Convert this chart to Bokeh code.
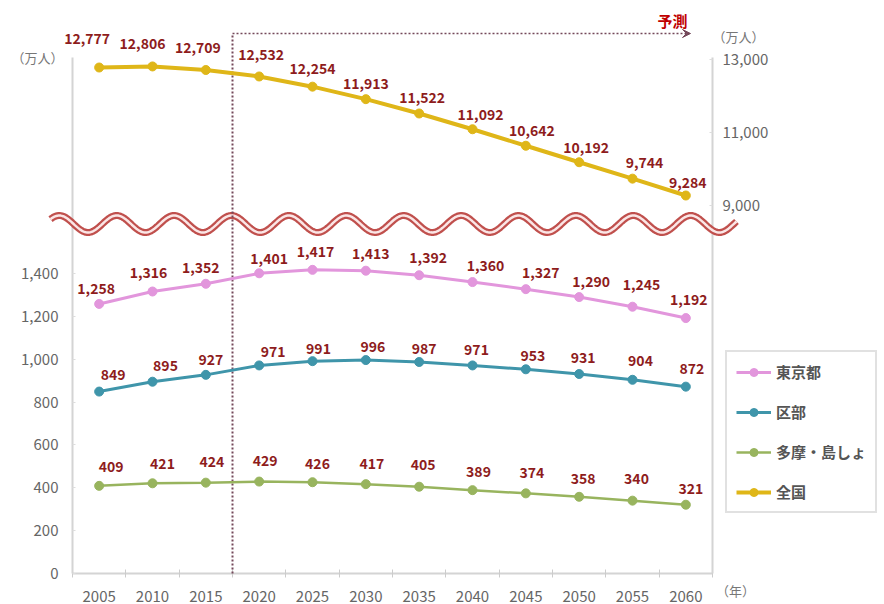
import numpy as np
from bokeh.plotting import figure
from bokeh.layouts import column
from bokeh.core.properties import value
from bokeh.models import (Range1d, LinearAxis, FixedTicker, NumeralTickFormatter,
                          ColumnDataSource, LabelSet, Label, Legend, LegendItem,
                          Arrow, VeeHead)
from bokeh.embed import file_html
from bokeh.resources import INLINE

# ---- data ----
years = [2005, 2010, 2015, 2020, 2025, 2030, 2035, 2040, 2045, 2050, 2055, 2060]
tokyo = [1258, 1316, 1352, 1401, 1417, 1413, 1392, 1360, 1327, 1290, 1245, 1192]
kubu = [849, 895, 927, 971, 991, 996, 987, 971, 953, 931, 904, 872]
tama = [409, 421, 424, 429, 426, 417, 405, 389, 374, 358, 340, 321]
nation = [12777, 12806, 12709, 12532, 12254, 11913, 11522, 11092, 10642, 10192, 9744, 9284]
left_ticks = [0, 200, 400, 600, 800, 1000, 1200, 1400]
right_ticks = [9000, 11000, 13000]
names = ["東京都", "区部", "多摩・島しょ", "全国"]
forecast_start = 2017.5

# ---- label nudges (style only, pixels) ----
nudge_x = {
    "tokyo": [-3, -4, -5, 10, 3, 5, 9, 13, 15, 12, 9, 3],
    "kubu": [14, 13, 5, 14, 6, 7, 5, 4, 7, 4, 8, 6],
    "tama": [12, 10, 6, 6, 5, 6, 4, 6, 6, 4, 4, 5],
    "nation": [-12, -10, -8, 2, 0, 0, 3, 8, 6, 7, 12, 2],
}
nudge_y = {
    "tokyo": [15, 19, 16, 15, 18, 17, 18, 17, 17, 16, 22, 19],
    "kubu": [17, 16, 15, 14, 13, 14, 14, 16, 14, 17, 19, 18],
    "tama": [19, 20, 21, 21, 19, 21, 22, 19, 21, 18, 22, 16],
    "nation": [29, 23, 22, 22, 18, 16, 16, 15, 15, 15, 16, 13],
}

# ---- layout constants (canvas pixels) ----
W, H = 884, 604
FL, FR, FT, FB = 72, 712, 57, 573
X0, X1 = 2002.5, 2062.5
Y_END = (FB - FT) * 1400 / 300.0
N_TOP, N_BOT = 13050, -1031

def dx(px):
    return X0 + (px - FL) * (X1 - X0) / (FR - FL)

def dy(py):
    return (FB - py) * Y_END / (FB - FT)

def ny(py):
    return N_BOT + (FB - py) * (N_TOP - N_BOT) / (FB - FT)

FONT = "Noto Sans CJK JP"
pink, teal, green, gold = "#e296dc", "#3f95aa", "#98b45e", "#dfb618"
red = "#8e1c1c"
dotc = "#74485a"

# ================= main figure (axes) =================
p = figure(frame_width=FR - FL, frame_height=FB - FT,
           min_border_left=FL, min_border_top=FT,
           min_border_right=W - FR, min_border_bottom=H - FB,
           x_range=Range1d(X0, X1), y_range=Range1d(0, Y_END),
           output_backend="svg", toolbar_location=None)
p.extra_y_ranges = {"nation": Range1d(N_BOT, N_TOP)}
p.outline_line_color = None
p.xgrid.visible = False
p.ygrid.visible = False
p.frame_align = False

ax = p.xaxis[0]
ax.ticker = FixedTicker(ticks=years, minor_ticks=[y - 2.5 for y in years] + [years[-1] + 2.5])
ax.major_tick_line_color = None
ax.minor_tick_line_color = "#cccccc"
ax.minor_tick_in = 4
ax.minor_tick_out = 4
ax.axis_line_color = "#d4d4d4"
ax.axis_line_width = 2
ax.major_label_standoff = 11
ax.major_label_text_font = FONT
ax.major_label_text_font_size = "15px"
ax.major_label_text_color = "#666666"

ly = p.yaxis[0]
ly.ticker = FixedTicker(ticks=left_ticks)
ly.formatter = NumeralTickFormatter(format="0,0")
ly.axis_line_color = "#d4d4d4"
ly.axis_line_width = 2
ly.major_tick_line_color = "#dddddd"
ly.major_tick_in = 3
ly.major_tick_out = 0
ly.minor_tick_line_color = None
ly.major_label_standoff = 14
ly.major_label_text_font = FONT
ly.major_label_text_font_size = "15px"
ly.major_label_text_color = "#666666"

ry = LinearAxis(y_range_name="nation", ticker=FixedTicker(ticks=right_ticks),
                formatter=NumeralTickFormatter(format="0,0"))
ry.axis_line_color = "#d4d4d4"
ry.axis_line_width = 2
ry.major_tick_line_color = "#dddddd"
ry.major_tick_in = 3
ry.major_tick_out = 0
ry.minor_tick_line_color = None
ry.major_label_standoff = 10
ry.major_label_text_font = FONT
ry.major_label_text_font_size = "15px"
ry.major_label_text_color = "#666666"
p.add_layout(ry, "right")

# ================= overlay figure (same scales, whole canvas) =================
p2 = figure(width=W, height=H, min_border=0, x_axis_type=None, y_axis_type=None,
            x_range=Range1d(dx(0), dx(W)), y_range=Range1d(dy(H), dy(0)),
            output_backend="svg", toolbar_location=None)
p2.extra_y_ranges = {"nation": Range1d(ny(H), ny(0))}
p2.background_fill_color = None
p2.border_fill_color = None
p2.outline_line_color = None
p2.frame_align = False
p2.margin = (-H, 0, 0, 0)

# broken-axis wave
xw = np.linspace(dx(50), dx(736), 600)
period = 57.4 * (X1 - X0) / (FR - FL)
crest = dx(231)
yw = dy(223.5) + (8.5 * Y_END / (FB - FT)) * np.cos(2 * np.pi * (xw - crest) / period)
p2.line(xw, yw, line_color="#c0504d", line_width=7)
p2.line(xw, yw, line_color="#fbe6e6", line_width=2.5)

# forecast marker
top_y = dy(33)
p2.segment(x0=[forecast_start], y0=[0], x1=[forecast_start], y1=[top_y],
           line_color=dotc, line_width=2, line_dash="2 2")
p2.add_layout(Arrow(end=VeeHead(size=8, fill_color=dotc, line_color=dotc),
                    x_start=forecast_start, y_start=top_y, x_end=dx(690), y_end=top_y,
                    line_color=dotc, line_width=1.5, line_dash="2 2"))
p2.add_layout(Label(x=dx(672), y=dy(20), text="予測", text_align="center",
                    text_baseline="middle", text_color="#c00000", text_font=FONT,
                    text_font_style="bold", text_font_size="15px"))

series = [
    ("tokyo", tokyo, pink, 3, "default"),
    ("kubu", kubu, teal, 3, "default"),
    ("tama", tama, green, 2.5, "default"),
    ("nation", nation, gold, 4, "nation"),
]
items = []
for (key, vals, col, lw, rng), name in zip(series, names):
    src = ColumnDataSource(dict(x=years, y=vals, t=[f"{v:,}" for v in vals],
                                ox=nudge_x[key], oy=nudge_y[key]))
    ln = p2.line("x", "y", source=src, line_color=col, line_width=lw, y_range_name=rng)
    sc = p2.scatter("x", "y", source=src, size=9, fill_color=col, line_color=col,
                    y_range_name=rng)
    items.append(LegendItem(label=name, renderers=[ln, sc]))
    p2.add_layout(LabelSet(x="x", y="y", text="t", source=src, y_range_name=rng,
                           x_offset="ox", y_offset="oy", text_align="center",
                           text_baseline="middle", text_color=red,
                           text_font=value(FONT), text_font_style="bold",
                           text_font_size="14px"))

# unit labels
for (px, py, t) in [(37, 57, "（万人）"), (738, 36, "（万人）"), (735, 590, "（年）")]:
    p2.add_layout(Label(x=dx(px), y=dy(py), text=t, text_align="center",
                        text_baseline="middle", text_color="#777777", text_font=FONT,
                        text_font_size="13px"))

legend = Legend(items=items, location=(725, H - 513))
legend.border_line_color = "#c4c4c4"
legend.border_line_width = 2
legend.background_fill_color = "white"
legend.background_fill_alpha = 1
legend.label_text_font = FONT
legend.label_text_font_style = "bold"
legend.label_text_color = "#555555"
legend.label_text_font_size = "15px"
legend.glyph_width = 35
legend.glyph_height = 20
legend.label_height = 20
legend.spacing = 19
legend.padding = 9
legend.margin = 0
legend.label_standoff = 5
p2.add_layout(legend)

layout = column(p, p2)
open("out.html", "w").write(file_html(layout, INLINE))
